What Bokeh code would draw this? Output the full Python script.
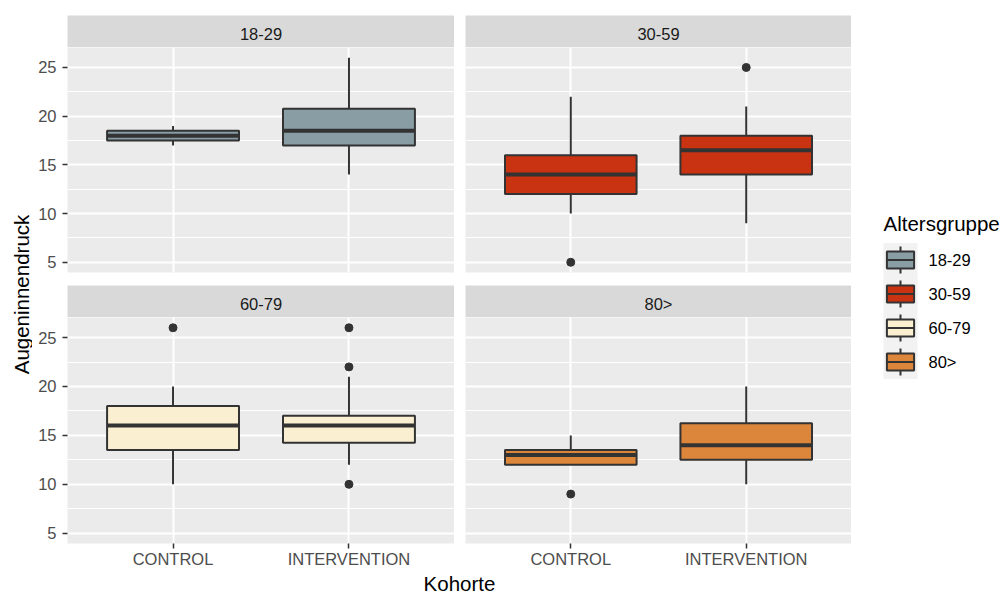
import math
from bokeh.plotting import figure
from bokeh.layouts import row, column
from bokeh.models import FactorRange, Range1d, FixedTicker, ColumnDataSource
from bokeh.core.properties import value
from bokeh.embed import file_html
from bokeh.resources import INLINE

# ---------------- data ----------------
groups = ["18-29", "30-59", "60-79", "80>"]
cohorts = ["CONTROL", "INTERVENTION"]
group_colors = ["#899DA4", "#C93312", "#FAEFD1", "#DC863B"]

box_group = ["18-29", "18-29", "30-59", "30-59", "60-79", "60-79", "80>", "80>"]
box_cohort = ["CONTROL", "INTERVENTION"] * 4
whisker_low = [17, 14, 10, 9, 10, 12, 12, 10]
q1 = [17.5, 17, 12, 14, 13.5, 14.25, 12, 12.5]
median = [18, 18.5, 14, 16.5, 16, 16, 13, 14]
q3 = [18.5, 20.75, 16, 18, 18, 17, 13.5, 16.25]
whisker_high = [19, 26, 22, 21, 20, 21, 15, 20]

outlier_group = ["30-59", "30-59", "60-79", "60-79", "60-79", "60-79", "80>"]
outlier_cohort = ["CONTROL", "INTERVENTION", "CONTROL", "INTERVENTION",
                  "INTERVENTION", "INTERVENTION", "CONTROL"]
outlier_value = [5, 25, 26, 26, 22, 10, 9]

y_ticks = [5, 10, 15, 20, 25]
y_minor = [7.5, 12.5, 17.5, 22.5]
y_limits = (3.95, 27.05)

x_title = "Kohorte"
y_title = "Augeninnendruck"
legend_title = "Altersgruppe"

# ---------------- style ----------------
FONT = value("Liberation Sans")
DARK = "#333333"
BOX_W = 0.75

LEFT_W, RIGHT_W = 422, 397
LEFT_MB, RIGHT_MB = 35, 11
TOTAL_H = 593
BOTTOM_AXIS = 29


def base_fig(**kw):
    p = figure(output_backend="svg", toolbar_location=None, title=None, **kw)
    p.outline_line_color = None
    p.border_fill_color = "white"
    return p


def make_panel(gi, left, bottom):
    g = groups[gi]
    idx = [i for i, gg in enumerate(box_group) if gg == g]
    src = ColumnDataSource(dict(
        x=[box_cohort[i] for i in idx],
        x0=[(box_cohort[i], -BOX_W / 2) for i in idx],
        x1=[(box_cohort[i], BOX_W / 2) for i in idx],
        lo=[whisker_low[i] for i in idx],
        q1=[q1[i] for i in idx],
        med=[median[i] for i in idx],
        q3=[q3[i] for i in idx],
        hi=[whisker_high[i] for i in idx],
    ))
    oidx = [i for i, gg in enumerate(outlier_group) if gg == g]
    osrc = ColumnDataSource(dict(
        x=[outlier_cohort[i] for i in oidx],
        y=[outlier_value[i] for i in oidx],
    ))
    p = base_fig(
        x_range=FactorRange(factors=cohorts, range_padding=0.1,
                            range_padding_units="absolute"),
        y_range=Range1d(*y_limits),
        width=LEFT_W if left else RIGHT_W,
        height=226 + BOTTOM_AXIS if bottom else 238,
        x_axis_location="below" if bottom else None,
        y_axis_location="left" if left else None,
        min_border_left=LEFT_MB if left else RIGHT_MB,
        min_border_right=0, min_border_top=0,
        min_border_bottom=BOTTOM_AXIS if bottom else 13,
    )
    p.background_fill_color = "#EBEBEB"
    p.xgrid.grid_line_color = "white"
    p.xgrid.grid_line_width = 2
    p.ygrid.ticker = FixedTicker(ticks=y_ticks, minor_ticks=y_minor)
    p.ygrid.grid_line_color = "white"
    p.ygrid.grid_line_width = 2
    p.ygrid.minor_grid_line_color = "white"
    p.ygrid.minor_grid_line_width = 1

    axes = []
    if left:
        ya = p.yaxis[0]
        ya.ticker = FixedTicker(ticks=y_ticks)
        ya.major_label_standoff = 6
        axes.append(ya)
    if bottom:
        xa = p.xaxis[0]
        xa.major_label_standoff = 1
        axes.append(xa)
    for a in axes:
        a.axis_line_color = None
        a.major_tick_line_color = DARK
        a.major_tick_line_width = 1.5
        a.major_tick_out = 5
        a.major_tick_in = 0
        a.minor_tick_line_color = None
        a.major_label_text_font = "Liberation Sans"
        a.major_label_text_font_size = "16.5px"
        a.major_label_text_color = "#4D4D4D"

    color = group_colors[gi]
    p.segment(x0="x", y0="q3", x1="x", y1="hi", source=src,
              line_color=DARK, line_width=2)
    p.segment(x0="x", y0="q1", x1="x", y1="lo", source=src,
              line_color=DARK, line_width=2)
    p.vbar(x="x", width=BOX_W, bottom="q1", top="q3", source=src,
           fill_color=color, line_color=DARK, line_width=2)
    p.segment(x0="x0", y0="med", x1="x1", y1="med", source=src,
              line_color=DARK, line_width=4)
    p.scatter(x="x", y="y", source=osrc, size=8,
              fill_color=DARK, line_color=DARK)
    return p


def make_strip(gi, left, top):
    s = base_fig(
        x_range=Range1d(0, 1), y_range=Range1d(0, 1),
        width=LEFT_W if left else RIGHT_W,
        height=47 if top else 32,
        x_axis_location=None, y_axis_location=None,
        min_border_left=LEFT_MB if left else RIGHT_MB,
        min_border_right=0, min_border_top=15 if top else 0,
        min_border_bottom=0,
    )
    s.background_fill_color = "#D9D9D9"
    s.grid.visible = False
    s.text(x=[0.5], y=[0.5], text=[groups[gi]], text_align="center",
           text_baseline="middle", y_offset=2, text_font=FONT,
           text_font_size="16.5px", text_color="#1A1A1A")
    return s


s1, s2 = make_strip(0, True, True), make_strip(1, False, True)
p1, p2 = make_panel(0, True, False), make_panel(1, False, False)
s3, s4 = make_strip(2, True, False), make_strip(3, False, False)
p3, p4 = make_panel(2, True, True), make_panel(3, False, True)

# x axis title across both panel columns
KX_W = LEFT_W + RIGHT_W
KX_H = TOTAL_H - (47 + 238 + 32 + 226 + BOTTOM_AXIS)
kx = base_fig(x_range=Range1d(0, KX_W), y_range=Range1d(0, KX_H),
              width=KX_W, height=KX_H, x_axis_location=None,
              y_axis_location=None, min_border=0)
kx.grid.visible = False
kx.text(x=[(LEFT_MB + KX_W) / 2], y=[KX_H / 2], text=[x_title],
        text_align="center", text_baseline="middle", text_font=FONT,
        text_font_size="20.5px", text_color="black")

# y axis title
YL_W = 32
yl = base_fig(x_range=Range1d(0, YL_W), y_range=Range1d(0, TOTAL_H),
              width=YL_W, height=TOTAL_H, x_axis_location=None,
              y_axis_location=None, min_border=0)
yl.grid.visible = False
yl.text(x=[20.5], y=[TOTAL_H - 294], text=[y_title], angle=math.pi / 2,
        text_align="center", text_baseline="middle", text_font=FONT,
        text_font_size="20.5px", text_color="black")

# legend
LG_W = 1008 - YL_W - KX_W
lg = base_fig(x_range=Range1d(0, LG_W), y_range=Range1d(TOTAL_H, 0),
              width=LG_W, height=TOTAL_H, x_axis_location=None,
              y_axis_location=None, min_border=0)
lg.grid.visible = False
lg.text(x=[32], y=[223], text=[legend_title], text_align="left",
        text_baseline="middle", text_font=FONT, text_font_size="20.5px",
        text_color="black")
KEY_TOP, KEY_H, KEY_L, KEY_R = 242.5, 34, 32, 66
tops = [KEY_TOP + KEY_H * i for i in range(len(groups))]
kw = KEY_R - KEY_L
lsrc = ColumnDataSource(dict(
    top=tops,
    bot=[t + KEY_H for t in tops],
    wt=[t + 0.1 * KEY_H for t in tops],
    wb=[t + 0.9 * KEY_H for t in tops],
    bt=[t + 0.25 * KEY_H for t in tops],
    bb=[t + 0.75 * KEY_H for t in tops],
    mid=[t + 0.5 * KEY_H for t in tops],
    color=group_colors,
    label=groups,
))
lg.quad(left=KEY_L, right=KEY_R, top="top", bottom="bot", source=lsrc,
        fill_color="#F2F2F2", line_color=None)
lg.segment(x0=(KEY_L + KEY_R) / 2, x1=(KEY_L + KEY_R) / 2, y0="wt", y1="wb",
           source=lsrc, line_color=DARK, line_width=2)
lg.quad(left=KEY_L + 0.1 * kw, right=KEY_R - 0.1 * kw, top="bt", bottom="bb",
        source=lsrc, fill_color="color", line_color=DARK, line_width=2)
lg.segment(x0=KEY_L + 0.1 * kw, x1=KEY_R - 0.1 * kw, y0="mid", y1="mid",
           source=lsrc, line_color=DARK, line_width=2)
lg.text(x=KEY_R + 11, y="mid", text="label", source=lsrc, text_align="left",
        text_baseline="middle", text_font=FONT, text_font_size="16.5px",
        text_color="black")

grid_col = column(row(s1, s2), row(p1, p2), row(s3, s4), row(p3, p4), kx)
layout = row(yl, grid_col, lg)

open("out.html", "w").write(file_html(layout, INLINE))
